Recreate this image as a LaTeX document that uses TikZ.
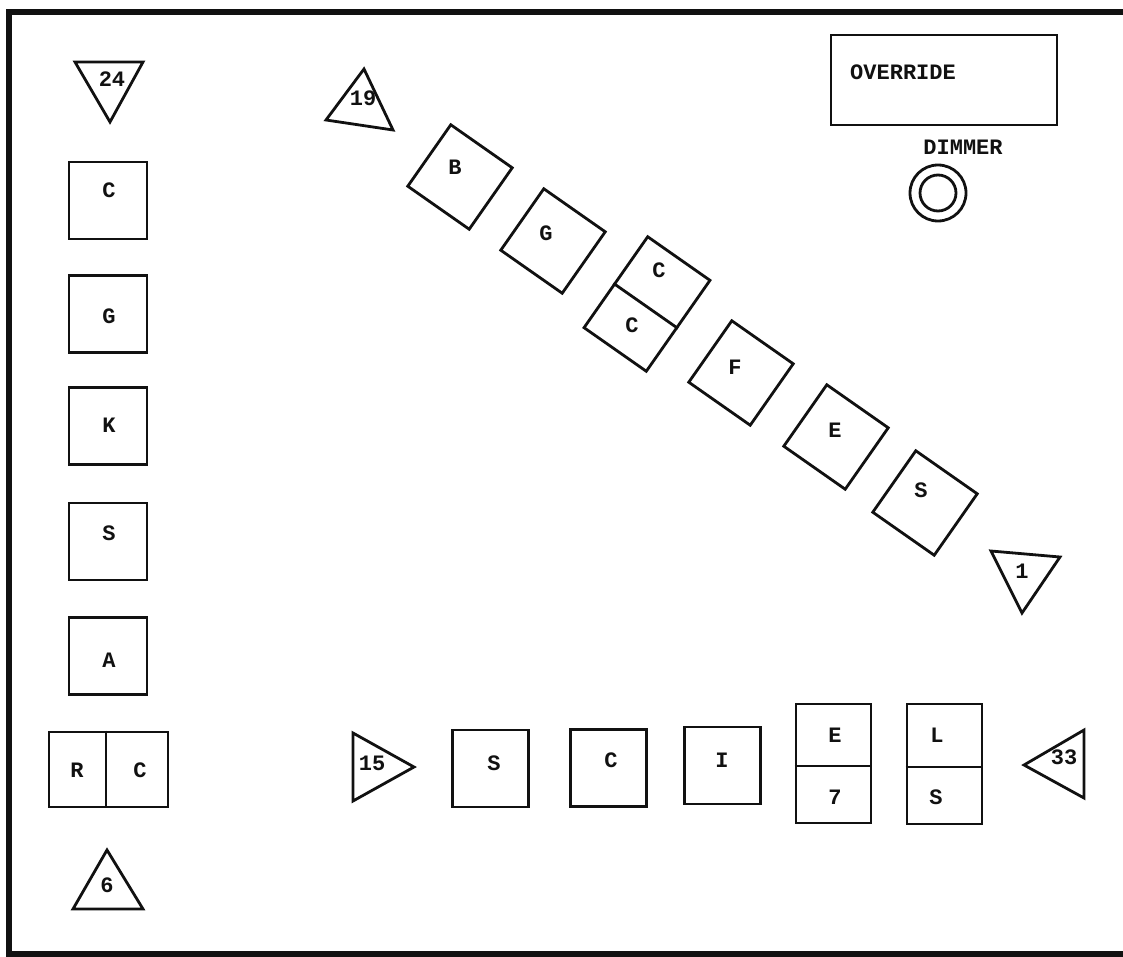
\documentclass[tikz,border=0pt]{standalone}
\usepackage{fontspec}
\newfontfamily\panelfont{Liberation Mono}
\usepackage{tikz}
\usetikzlibrary{calc}
\definecolor{pnInk}{HTML}{111111}
\tikzset{
  pn diagram/.style={x=0.5pt, y=-0.5pt, font=\panelfont\bfseries\fontsize{11}{13}\selectfont,
    text=pnInk, line join=miter},
  pn box/.style={draw=pnInk, fill=white, line width=1.4pt, inner sep=0pt,
    minimum width=39pt, minimum height=38.5pt},
  pn tile/.style={pn box, rotate=-35, minimum width=37.5pt, minimum height=37.5pt},
  pn tri/.style={draw=pnInk, line width=1.4pt},
  pn split/.style={draw=pnInk, line width=1.4pt},
  pn ring/.style={circle, draw=pnInk, line width=1.4pt, inner sep=0pt},
  pn tag/.style={inner sep=0pt},
  pn frame/.style={draw=pnInk, line width=2.6pt}
}

\begin{document}
\begin{tikzpicture}[pn diagram]
\useasboundingbox (0,0) rectangle (1123,957);
\draw[pn frame] (1123,12) -- (9,12) -- (9,954) -- (1123,954);
\foreach \i/\y/\ty/\txt in {1/200.5/190/C,2/314/316/G,3/426/425/K,4/541.5/533/S,5/656/660/A}{
  \node[pn box] (col\i) at (108,\y) {};
  \node[pn tag] (col\i t) at (109,\ty) {\txt};
}
\node[pn box, minimum width=59.5pt, minimum height=37.5pt] (rc) at (108.5,769.5) {};
\draw[pn split] ($(rc.north west)!0.48!(rc.north east)$) -- ($(rc.south west)!0.48!(rc.south east)$);
\node[pn tag] (rcR) at (77,770) {R};
\node[pn tag] (rcC) at (140,770) {C};
\draw[pn tri] (75,62) -- (143,62) -- (110,122) -- cycle;
\node[pn tag] (tri24) at (112,79) {24};
\draw[pn tri] (107,850) -- (143,909) -- (73,909) -- cycle;
\node[pn tag] (tri6) at (107,885) {6};
\draw[pn tri] (364,69) -- (393,130) -- (326,120) -- cycle;
\node[pn tag] (tri19) at (363,98) {19};
\draw[pn tri] (991,551) -- (1060,557) -- (1022,613) -- cycle;
\node[pn tag] (tri1) at (1022,571) {1};
\draw[pn tri] (353,733) -- (414,767) -- (353,801) -- cycle;
\node[pn tag] (tri15) at (372,763) {15};
\draw[pn tri] (1084,730) -- (1024,765) -- (1084,798) -- cycle;
\node[pn tag] (tri33) at (1064,757) {33};
\foreach \i/\cx/\cy/\tx/\ty/\txt in {1/460/177/455/167/B,2/553/241/546/233/G,4/741/373/735/367/F,5/836/437/835/430/E,6/925/503/921/490/S}{
  \node[pn tile] (dia\i) at (\cx,\cy) {};
  \node[pn tag] (dia\i t) at (\tx,\ty) {\txt};
}
\node[pn tile, minimum width=38pt, minimum height=55.5pt] (dia3) at (647,304) {};
\draw[pn split] ($(dia3.north west)!0.52!(dia3.south west)$) -- ($(dia3.north east)!0.52!(dia3.south east)$);
\node[pn tag] (dia3a) at (659,270) {C};
\node[pn tag] (dia3b) at (632,325) {C};
\foreach \i/\cx/\cy/\tx/\ty/\txt in {1/490.5/768.5/494/763/S,2/608.5/768/611/760/C,3/722.5/765.5/722/760/I}{
  \node[pn box, minimum width=38pt] (row\i) at (\cx,\cy) {};
  \node[pn tag] (row\i t) at (\tx,\ty) {\txt};
}
\node[pn box, minimum width=37.5pt, minimum height=59.5pt] (row4) at (833.5,763.5) {};
\draw[pn split] ($(row4.north west)!0.52!(row4.south west)$) -- ($(row4.north east)!0.52!(row4.south east)$);
\node[pn tag] (row4a) at (835,735) {E};
\node[pn tag] (row4b) at (835,797) {7};
\node[pn box, minimum width=37.5pt, minimum height=60pt] (row5) at (944.5,764) {};
\draw[pn split] ($(row5.north west)!0.525!(row5.south west)$) -- ($(row5.north east)!0.525!(row5.south east)$);
\node[pn tag] (row5a) at (937,735) {L};
\node[pn tag] (row5b) at (936,797) {S};
\node[pn box, minimum width=113pt, minimum height=45pt] (override) at (944,80) {};
\node[pn tag] (overridet) at (903,72) {OVERRIDE};
\node[pn tag] (dimmert) at (963,147) {DIMMER};
\node[pn ring, minimum size=28pt] (dimmer) at (938,193) {};
\node[pn ring, minimum size=18pt] (dimmerin) at (dimmer) {};
\end{tikzpicture}
\end{document}
